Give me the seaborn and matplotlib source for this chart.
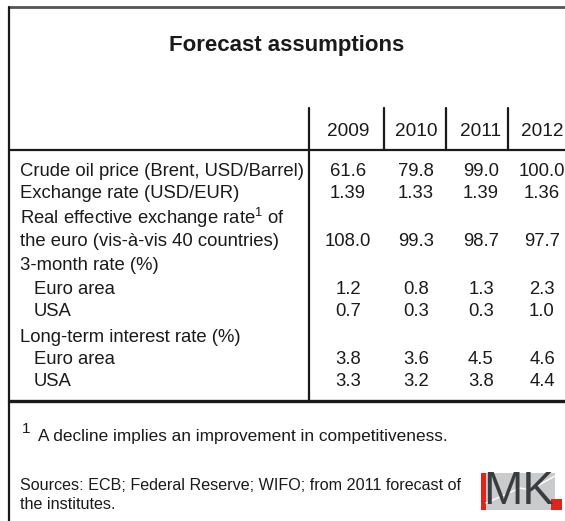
import matplotlib.pyplot as plt
import matplotlib.patches as patches
import pandas as pd
import seaborn as sns

# table content
title = "Forecast assumptions"
years = ["2009", "2010", "2011", "2012"]
row_labels = [
    "Crude oil price (Brent, USD/Barrel)",
    "Exchange rate (USD/EUR)",
    r"Real effective exchange rate$^{\mathregular{1}}$ of",
    "the euro (vis-à-vis 40 countries)",
    "3-month rate (%)",
    "Euro area",
    "USA",
    "Long-term interest rate (%)",
    "Euro area",
    "USA",
]
indent = [0, 0, 0, 0, 0, 1, 1, 0, 1, 1]
oil = [61.6, 79.8, 99.0, 100.0]
fx = [1.39, 1.33, 1.39, 1.36]
reer = [108.0, 99.3, 98.7, 97.7]
short_euro = [1.2, 0.8, 1.3, 2.3]
short_usa = [0.7, 0.3, 0.3, 1.0]
long_euro = [3.8, 3.6, 4.5, 4.6]
long_usa = [3.3, 3.2, 3.8, 4.4]
row_values = [oil, fx, None, reer, None, short_euro, short_usa, None, long_euro, long_usa]
row_fmt = ["{:.1f}", "{:.2f}", None, "{:.1f}", None, "{:.1f}", "{:.1f}", None, "{:.1f}", "{:.1f}"]
footnote = "A decline implies an improvement in competitiveness."
sources = "Sources: ECB; Federal Reserve; WIFO; from 2011 forecast of\nthe institutes."

sns.set_theme(style="white")
plt.rcParams["font.family"] = ["Liberation Sans", "DejaVu Sans"]
plt.rcParams["mathtext.fontset"] = "custom"
plt.rcParams["mathtext.rm"] = "Liberation Sans"

fig = plt.figure(figsize=(5.65, 5.21), dpi=100)
ax = fig.add_axes([0, 0, 1, 1])
ax.set_xlim(0, 565)
ax.set_ylim(521, 0)
ax.axis("off")

txt = "#1a1a1a"
lc = "#1a1a1a"
fs = 13.3

# frame lines
ax.plot([9, 565], [7, 7], color="#555555", lw=2)
ax.plot([9, 9], [7, 521], color=lc, lw=1.6)
ax.plot([9, 565], [150, 150], color=lc, lw=1.6)
ax.plot([9, 565], [401, 401], color=lc, lw=2.4)
ax.plot([309, 309], [108, 401], color=lc, lw=1.6)
for xs in [384, 446, 508]:
    ax.plot([xs, xs], [108, 150], color=lc, lw=1.6)

ax.text(287, 46, title, ha="center", va="center", fontsize=16, fontweight="bold", color=txt)

# header
col_x = [348, 416, 481, 542]
for x, yr in zip(col_x, years):
    ax.text(x, 131, yr, ha="center", va="center", fontsize=fs + 0.4, color=txt)

# rows
df = pd.DataFrame({"label": row_labels, "indent": indent, "values": row_values, "fmt": row_fmt})
row_y = [172, 193, 218, 242, 266, 290, 312, 337, 360, 382]
for (_, r), y in zip(df.iterrows(), row_y):
    ax.text(20 + 14 * r["indent"], y, r["label"], ha="left", va="center", fontsize=fs, color=txt)
    if r["values"] is not None:
        for x, v in zip(col_x, r["values"]):
            ax.text(x, y, r["fmt"].format(v), ha="center", va="center", fontsize=fs, color=txt)

# footnotes
ax.text(22, 429, "1", ha="left", va="center", fontsize=11, color=txt)
ax.text(38, 437, footnote, ha="left", va="center", fontsize=12.4, color=txt)
ax.text(20, 495, sources, ha="left", va="center", fontsize=11.6, color=txt, linespacing=1.3)

# IMK logo
ax.add_patch(patches.Rectangle((481, 473), 74, 37, color="#c9cbcc", lw=0))
ax.plot([486, 520, 530, 555], [503, 488, 490, 476], color="white", lw=1)
ax.add_patch(patches.Rectangle((481, 473), 5, 37, color="#e2231a", lw=0))
ax.text(519, 492, "MK", ha="center", va="center", fontsize=34, color="#3a3d40",
        family=["Liberation Sans Narrow", "Liberation Sans"])
ax.add_patch(patches.Rectangle((551, 499), 11, 11, color="#e2231a", lw=0))

fig.savefig("out.png", dpi=100)
